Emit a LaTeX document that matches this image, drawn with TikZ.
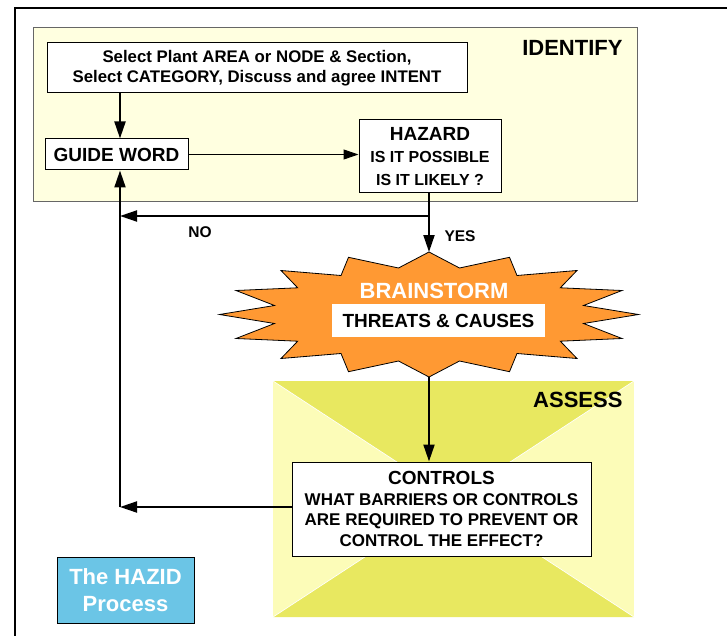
\documentclass[tikz,border=0pt]{standalone}
\usepackage{fontspec}
\setmainfont{Liberation Sans}
\usepackage{xcolor}
\usetikzlibrary{positioning,calc,arrows.meta}

\definecolor{identbg}{RGB}{255,255,224}
\definecolor{burstorange}{RGB}{255,153,51}
\definecolor{assessdark}{RGB}{232,232,96}
\definecolor{assesslight}{RGB}{252,252,184}
\definecolor{hazidblue}{RGB}{107,197,230}

\tikzset{
  box/.style={draw, rectangle, fill=white, line width=1pt, align=center, inner sep=0pt},
  flow/.style={line width=2pt, -{Triangle[length=17pt,width=11pt]}},
  thinflow/.style={line width=1pt, -{Triangle[length=15pt,width=10pt]}},
  heading/.style={font=\fontsize{22}{26}\selectfont\bfseries},
  answer/.style={font=\fontsize{15.5}{18}\selectfont\bfseries}
}

\begin{document}
\begin{tikzpicture}[x=1pt, y=-1pt]
    \useasboundingbox (0,0) rectangle (727,636);
    % outer frame
    \draw[line width=2pt] (15,636) -- (15,8) -- (727,8);

    % identify panel
    \node [draw=gray!80!black, fill=identbg, line width=1pt, inner sep=0pt, minimum width=604pt, minimum height=174pt] (identify) at (335,115) {};
    \node [heading, anchor=east] (identlabel) at (626,48) {IDENTIFY};

    % assess panel
    \coordinate (atl) at (273,381);
    \coordinate (atr) at (634,381);
    \coordinate (abr) at (634,617);
    \coordinate (abl) at (273,617);
    \coordinate (amid) at (453.5,499);
    \fill[assesslight] (atl) rectangle (abr);
    \fill[assessdark] (atl) -- (atr) -- (amid) -- cycle;
    \fill[assessdark] (abl) -- (abr) -- (amid) -- cycle;
    \draw[white, line width=0.7pt] (atl) -- (abr) (atr) -- (abl);
    \node [heading, anchor=east] (assesslabel) at (626,400) {ASSESS};

    % brainstorm burst
    \coordinate (bc) at (429,314.5);
    \coordinate (btop) at (429,252);
    \coordinate (bbot) at (429,377);
    \draw[fill=burstorange, line width=0.8pt, shift={(bc)}]
        (0,-62.5) -- (30.5,-46.5) -- (80.5,-57.2) -- (88,-39) -- (148,-44) -- (131.3,-26.7)
        -- (193,-24) -- (154.5,-9) -- (209.5,0) -- (154.5,9) -- (193,24) -- (131.3,26.7)
        -- (148,44) -- (88,39) -- (80.5,57.2) -- (30.5,46.5) -- (0,62.5)
        -- (-30.5,46.5) -- (-80.5,57.2) -- (-88,39) -- (-148,44) -- (-131.3,26.7)
        -- (-193,24) -- (-154.5,9) -- (-209.5,0) -- (-154.5,-9) -- (-193,-24) -- (-131.3,-26.7)
        -- (-148,-44) -- (-88,-39) -- (-80.5,-57.2) -- (-30.5,-46.5) -- cycle;
    \node [text=white, font=\fontsize{22}{26}\selectfont\bfseries] (brain) at (434,291) {BRAINSTORM};
    \node [fill=white, inner sep=0pt, minimum width=213pt, minimum height=33pt, font=\fontsize{19}{22}\selectfont\bfseries] (threats) at (438.5,320.5) {THREATS \& CAUSES};

    % boxes
    \node [box, minimum width=420pt, minimum height=50pt, font=\fontsize{16.8}{19.5}\selectfont\bfseries] (select) at (257,68) {Select Plant AREA or NODE \& Section,\\ Select CATEGORY, Discuss and agree INTENT};
    \node [box, minimum width=143pt, minimum height=31pt, font=\fontsize{19}{22}\selectfont\bfseries] (guide) at (116.5,154.5) {GUIDE WORD};
    \node [box, minimum width=142pt, minimum height=73pt, font=\fontsize{16}{22.5}\selectfont\bfseries] (hazard) at (430,156.5) {{\fontsize{19}{22.5}\selectfont HAZARD}\\ IS IT POSSIBLE\\ IS IT LIKELY ?};
    \node [box, minimum width=299pt, minimum height=94pt, font=\fontsize{17}{20.7}\selectfont\bfseries] (controls) at (441.5,509) {{\fontsize{19}{20.7}\selectfont CONTROLS}\\ WHAT BARRIERS OR CONTROLS\\ ARE REQUIRED TO PREVENT OR\\ CONTROL THE EFFECT?};
    \node [draw, fill=hazidblue, line width=1pt, inner sep=0pt, minimum width=137pt, minimum height=66pt, align=center, text=white, font=\fontsize{22}{27}\selectfont\bfseries] (hazid) at (125.5,590) {The HAZID\\ Process};

    % connectors
    \coordinate (loopx) at (120,0);
    \coordinate (nojoin) at (429,216);
    \coordinate (back) at (120,507);
    \draw[flow] (select.south -| loopx) -- (guide.north -| loopx);
    \draw[thinflow] (guide.east) -- (guide.east -| hazard.west);
    \draw[line width=2pt] (hazard.south -| nojoin) -- (nojoin);
    \draw[flow] (nojoin) -- (nojoin -| loopx);
    \draw[flow] (nojoin) -- (btop);
    \draw[flow] (bbot) -- (controls.north -| bbot);
    \draw[flow] (controls.west |- back) -- (back);
    \draw[flow] (back) -- (guide.south -| loopx);

    \node [answer] (no) at (200,232) {NO};
    \node [answer] (yes) at (460,236) {YES};
\end{tikzpicture}
\end{document}
